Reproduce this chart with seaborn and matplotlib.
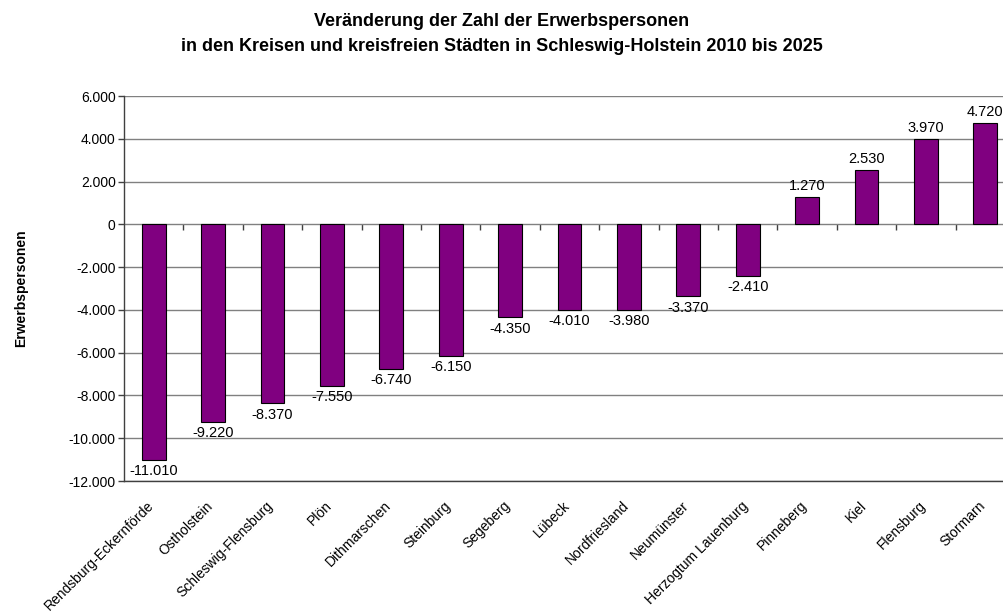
import matplotlib
matplotlib.use("Agg")
import matplotlib.pyplot as plt
import matplotlib.transforms as mtransforms
import seaborn as sns
import pandas as pd
from matplotlib.ticker import FuncFormatter, FixedLocator

# DATA
kreise = ["Rendsburg-Eckernförde", "Ostholstein", "Schleswig-Flensburg", "Plön",
          "Dithmarschen", "Steinburg", "Segeberg", "Lübeck", "Nordfriesland",
          "Neumünster", "Herzogtum Lauenburg", "Pinneberg", "Kiel", "Flensburg",
          "Stormarn"]
veraenderung = [-11010, -9220, -8370, -7550, -6740, -6150, -4350, -4010, -3980,
                -3370, -2410, 1270, 2530, 3970, 4720]

title = ("Veränderung der Zahl der Erwerbspersonen\n"
         "in den Kreisen und kreisfreien Städten in Schleswig-Holstein 2010 bis 2025")

df = pd.DataFrame({"kreis": kreise, "wert": veraenderung})


def de_fmt(v):
    return f"{int(v):,}".replace(",", ".")


# CONFIG
sns.set_style("white")
plt.rcParams["font.family"] = ["Liberation Sans", "DejaVu Sans"]
plt.rcParams["text.color"] = "black"
plt.rcParams["xtick.color"] = "black"
plt.rcParams["ytick.color"] = "black"
plt.rcParams["axes.labelcolor"] = "black"

fig = plt.figure(figsize=(10.04, 6.12), dpi=100)
# plot area runs a little past the right edge of the image (as in the original)
ax = fig.add_axes([0.1235, 0.214, 0.8875, 0.629])

sns.barplot(data=df, x="kreis", y="wert", color="#800080", edgecolor="black",
            linewidth=0.8, width=0.40, saturation=1, ax=ax)

ax.set_ylim(-12000, 6000)
ax.set_xlim(-0.5, len(kreise) - 0.5)
ax.set_yticks(range(-12000, 6001, 2000))
ax.yaxis.set_major_formatter(FuncFormatter(lambda v, p: de_fmt(v)))
ax.yaxis.grid(True, color="#808080", linewidth=1)
ax.set_axisbelow(True)

for s in ["top", "right"]:
    ax.spines[s].set_visible(False)
for s in ["left", "bottom"]:
    ax.spines[s].set_color("#404040")
    ax.spines[s].set_linewidth(1)

ax.tick_params(axis="y", left=True, length=4, width=1, color="#404040",
               labelsize=10, pad=2)
ax.tick_params(axis="x", bottom=False, labelsize=10, pad=2)
plt.setp(ax.get_xticklabels(), rotation=45, ha="right", rotation_mode="anchor")
for lbl in ax.get_xticklabels():
    lbl.set_transform(lbl.get_transform() +
                      mtransforms.ScaledTranslation(-0.07, -0.1, fig.dpi_scale_trans))

# zero line with category tick marks
ymin, ymax = ax.get_ylim()
zero_pos = (0 - ymin) / (ymax - ymin)
sec = ax.secondary_xaxis(zero_pos)
sec.xaxis.set_major_locator(FixedLocator([i + 0.5 for i in range(len(kreise) - 1)]))
sec.tick_params(axis="x", direction="out", length=4, width=1, color="#404040",
                labelbottom=False, labeltop=False, bottom=True, top=False)
sec.spines["bottom"].set_color("#404040")
sec.spines["bottom"].set_linewidth(1)
sec.spines["top"].set_visible(False)
sec.xaxis.set_ticks_position("bottom")
sec.set_xticklabels([])

# value labels
for i, v in enumerate(veraenderung):
    if v < 0:
        ax.annotate(de_fmt(v), (i, v), xytext=(0, -3), textcoords="offset points",
                    ha="center", va="top", fontsize=10.5)
    else:
        ax.annotate(de_fmt(v), (i, v), xytext=(0, 3), textcoords="offset points",
                    ha="center", va="bottom", fontsize=10.5)

ax.set_xlabel("")
ax.set_ylabel("Erwerbspersonen", fontsize=10, fontweight="bold", labelpad=0)
ax.yaxis.set_label_coords(-0.108, 0.5)

fig.suptitle(title, fontsize=13, fontweight="bold", y=0.978, va="top",
             linespacing=1.55)

fig.savefig("out.png", dpi=100)
